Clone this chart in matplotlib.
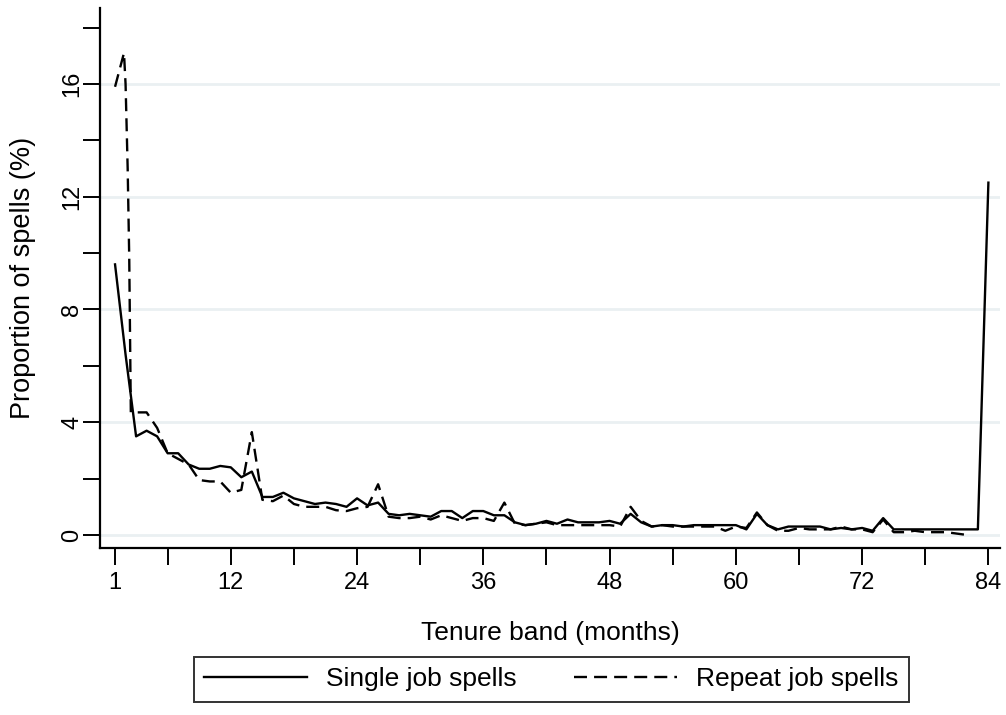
import numpy as np
import matplotlib
matplotlib.use("Agg")
import matplotlib.pyplot as plt
from matplotlib.lines import Line2D

# tenure bands (months) and proportion of spells (%)
single_months = list(range(1, 85))
single_pct = [9.6, 6.4, 3.5, 3.7, 3.5, 2.9, 2.9, 2.5, 2.35, 2.35,
              2.45, 2.4, 2.05, 2.25, 1.35, 1.35, 1.5, 1.3, 1.2, 1.1,
              1.15, 1.1, 1.0, 1.3, 1.05, 1.15, 0.75, 0.7, 0.75, 0.7,
              0.65, 0.85, 0.85, 0.6, 0.85, 0.85, 0.7, 0.7, 0.45, 0.35,
              0.4, 0.5, 0.4, 0.55, 0.45, 0.45, 0.45, 0.5, 0.4, 0.75,
              0.45, 0.3, 0.35, 0.35, 0.3, 0.35, 0.35, 0.35, 0.35, 0.35,
              0.2, 0.75, 0.35, 0.2, 0.3, 0.3, 0.3, 0.3, 0.2, 0.25,
              0.2, 0.25, 0.15, 0.6, 0.2, 0.2, 0.2, 0.2, 0.2, 0.2,
              0.2, 0.2, 0.2, 12.5]

repeat_months = [1.0, 1.85, 2.0, 2.2, 2.35, 2.5] + list(range(3, 83))
repeat_pct = [15.9, 17.1, 16.0, 13.0, 9.8, 4.35,
              4.35, 4.35, 3.8, 2.9, 2.7, 2.5, 1.95, 1.9, 1.9, 1.5,
              1.6, 3.65, 1.25, 1.2, 1.4, 1.1, 1.0, 1.0, 1.0, 0.88,
              0.85, 0.95, 1.0, 1.8, 0.65, 0.6, 0.6, 0.65, 0.55, 0.7,
              0.6, 0.5, 0.6, 0.6, 0.5, 1.15, 0.4, 0.35, 0.4, 0.45,
              0.35, 0.35, 0.35, 0.35, 0.35, 0.35, 0.3, 1.0, 0.5, 0.3,
              0.35, 0.3, 0.3, 0.3, 0.3, 0.3, 0.15, 0.3, 0.25, 0.8,
              0.35, 0.15, 0.15, 0.25, 0.2, 0.2, 0.2, 0.3, 0.2, 0.2,
              0.1, 0.55, 0.1, 0.1, 0.15, 0.1, 0.1, 0.1, 0.05, 0.0]

x_ticklabels = [1, 12, 24, 36, 48, 60, 72, 84]
x_minor = [6, 18, 30, 42, 54, 66, 78]
y_ticklabels = [0, 4, 8, 12, 16]
y_minor = [2, 6, 10, 14, 18]

plt.rcParams['font.family'] = ['Liberation Sans', 'DejaVu Sans']

LW = 1.7
DASH = (5.5, 3)

fig = plt.figure(figsize=(10.06, 7.15), dpi=100)
ax = fig.add_axes([0.0994, 0.2336, 0.8946, 0.7554])

ax.plot(single_months, single_pct, color="black", lw=LW, zorder=3)
ax.plot(repeat_months, repeat_pct, color="black", lw=LW,
        dashes=DASH, zorder=3)

ax.set_xlim(-0.43, 85.1)
ax.set_ylim(-0.46, 18.7)

ax.set_xticks(x_ticklabels)
ax.set_xticks(x_minor, minor=True)
ax.set_yticks(y_ticklabels)
ax.set_yticks(y_minor, minor=True)
ax.set_yticklabels([str(v) for v in y_ticklabels], rotation=90, va="center")

ax.tick_params(which="both", direction="out", length=12, width=1.4,
               colors="black", labelsize=17)
ax.tick_params(axis="x", pad=5)
ax.tick_params(axis="y", pad=0)

ax.grid(axis="y", which="major", color="#eaf0f2", lw=2, zorder=0)
ax.set_axisbelow(True)

for side in ["top", "right"]:
    ax.spines[side].set_visible(False)
for side in ["left", "bottom"]:
    ax.spines[side].set_linewidth(1.6)

ax.set_xlabel("Tenure band (months)", fontsize=19, labelpad=20)
ax.set_ylabel("Proportion of spells (%)", fontsize=19.5, labelpad=18)

handles = [Line2D([], [], color="black", lw=LW),
           Line2D([], [], color="black", lw=LW, dashes=DASH)]
leg = fig.legend(handles, ["Single job spells", "Repeat job spells"],
                 loc="lower center", bbox_to_anchor=(0.548, 0.0),
                 ncol=2, fontsize=19, frameon=True, fancybox=False,
                 edgecolor="black", handlelength=3.9, handletextpad=0.7,
                 columnspacing=2.2, borderpad=0.4)
leg.get_frame().set_linewidth(1.4)

fig.savefig("out.png", dpi=100, facecolor="white")
